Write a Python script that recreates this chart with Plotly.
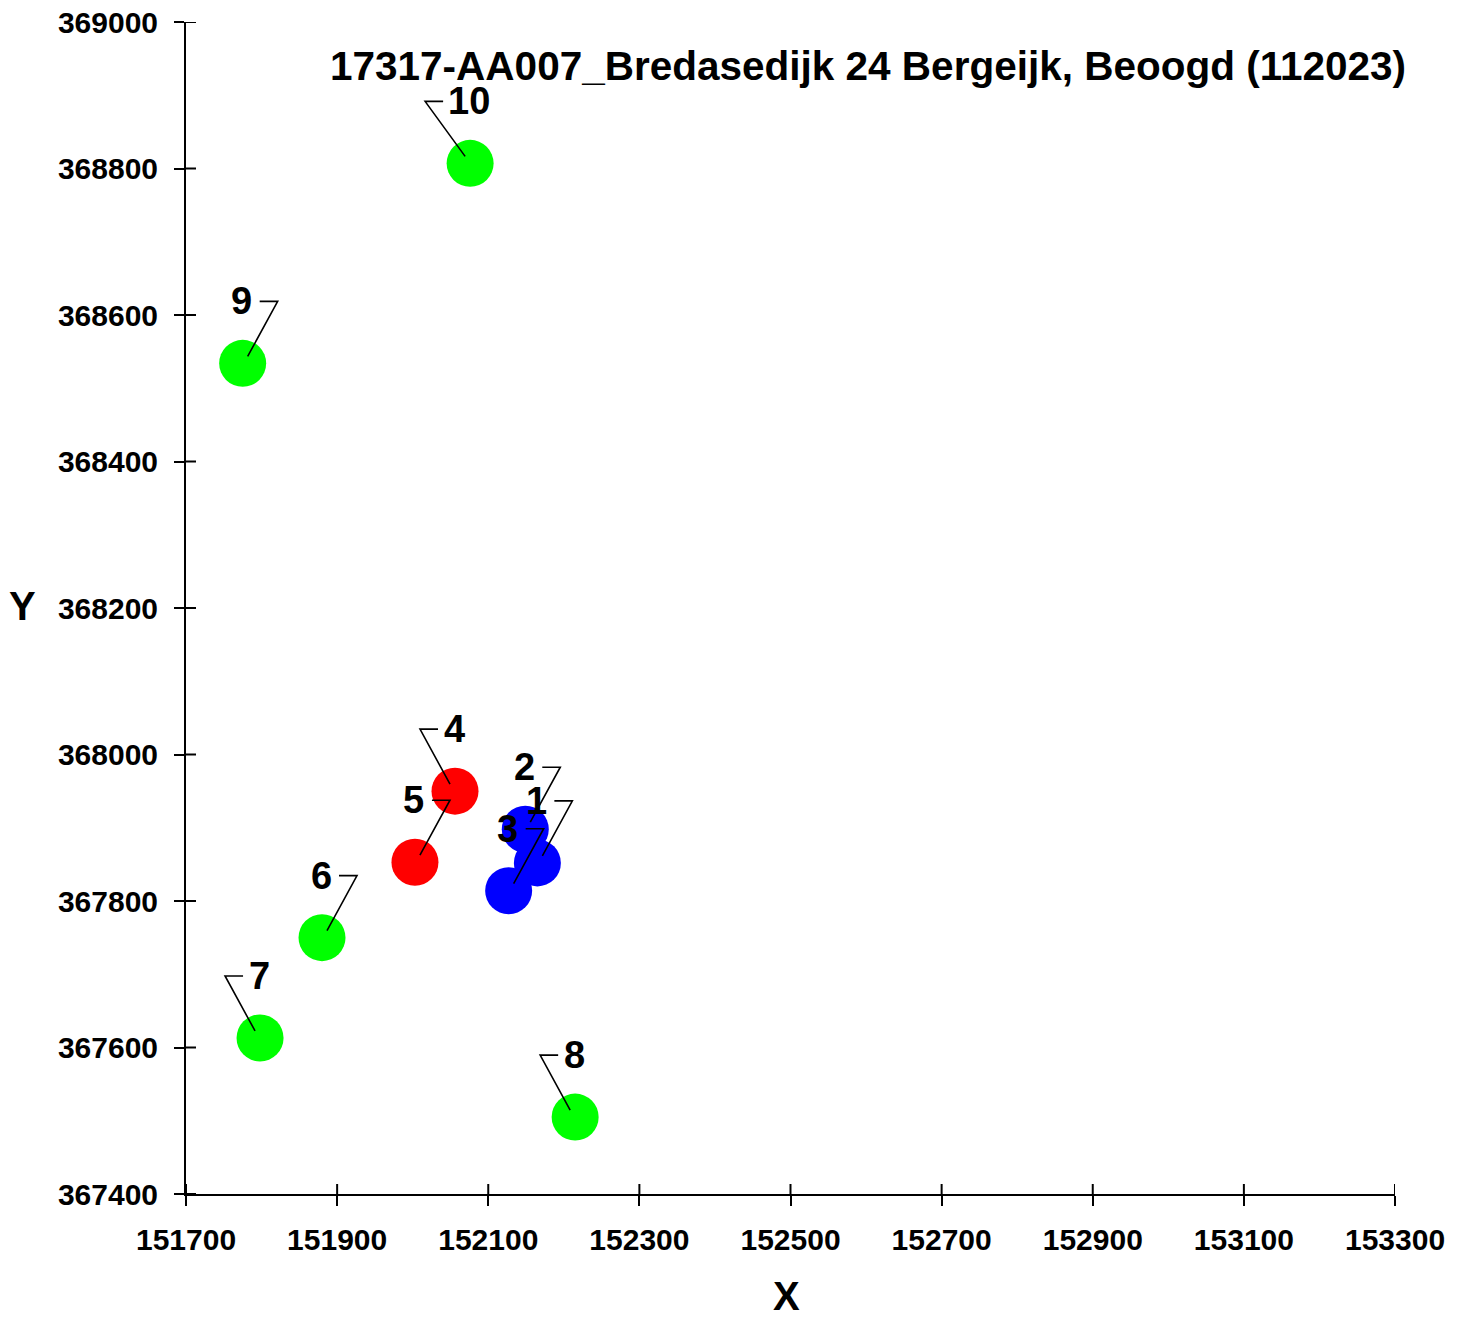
import plotly.graph_objects as go

# ---- data ----
point_ids = ["1", "2", "3", "4", "5", "6", "7", "8", "9", "10"]
x_vals = [152165, 152149, 152127, 152056, 152003, 151880, 151798, 152215, 151775, 152076]
y_vals = [367852, 367898, 367814, 367950, 367853, 367750, 367613, 367505, 368534, 368807]
point_group = ["blue", "blue", "blue", "red", "red", "green", "green", "green", "green", "green"]
label_side = ["R", "R", "R", "L", "R", "R", "L", "L", "R", "L"]

x_ticks = [151700, 151900, 152100, 152300, 152500, 152700, 152900, 153100, 153300]
y_ticks = [367400, 367600, 367800, 368000, 368200, 368400, 368600, 368800, 369000]

title_text = "17317-AA007_Bredasedijk 24 Bergeijk, Beoogd (112023)"

# ---- style ----
COLORS = {"blue": "#0000FF", "red": "#FF0000", "green": "#00FF00"}
FONT = "Liberation Sans, Arial, sans-serif"
W, H = 1466, 1319
ML, MR, MT, MB = 186, 71, 22, 125

fig = go.Figure()
for grp in ["blue", "red", "green"]:
    idx = [i for i, g in enumerate(point_group) if g == grp]
    fig.add_trace(go.Scatter(
        x=[x_vals[i] for i in idx], y=[y_vals[i] for i in idx],
        mode="markers",
        marker=dict(size=47, color=COLORS[grp], line=dict(width=0)),
        hoverinfo="skip", showlegend=False, cliponaxis=False,
    ))

shapes = []
annotations = []
# leader lines + labels (offsets in pixels, y up)
for pid, px, py, side in zip(point_ids, x_vals, y_vals, label_side):
    s = 1 if side == "R" else -1
    half = 17 if len(pid) == 1 else 27
    tick_in = s * half
    elbow = s * (half + 18)
    path = f"M {s*5},{7} L {elbow},{62} L {tick_in},{62}"
    shapes.append(dict(
        type="path", xref="x", yref="y", xsizemode="pixel", ysizemode="pixel",
        xanchor=px, yanchor=py, path=path,
        line=dict(color="black", width=1.6), layer="above",
    ))
    annotations.append(dict(
        x=px, y=py, xref="x", yref="y", text=pid, showarrow=False,
        xshift=-1, yshift=62, xanchor="center", yanchor="middle",
        font=dict(family=FONT, size=38, color="black", weight="bold"),
    ))

# inside halves of crossing ticks
for v in x_ticks:
    shapes.append(dict(type="line", xref="x", yref="paper", ysizemode="pixel",
                       yanchor=0, x0=v, x1=v, y0=0, y1=10,
                       line=dict(color="black", width=2)))
for v in y_ticks:
    shapes.append(dict(type="line", xref="paper", yref="y", xsizemode="pixel",
                       xanchor=0, x0=0, x1=10, y0=v, y1=v,
                       line=dict(color="black", width=2)))

# title and axis titles
annotations.append(dict(x=0.564, y=0.9625, xref="paper", yref="paper", text=title_text,
                        showarrow=False, xanchor="center", yanchor="middle",
                        font=dict(family=FONT, size=40.5, color="black", weight="bold")))
annotations.append(dict(x=0.497, y=-0.0870, xref="paper", yref="paper", text="X",
                        showarrow=False, xanchor="center", yanchor="middle",
                        font=dict(family=FONT, size=40, color="black", weight="bold")))
annotations.append(dict(x=-0.1356, y=0.5017, xref="paper", yref="paper", text="Y",
                        showarrow=False, xanchor="center", yanchor="middle",
                        font=dict(family=FONT, size=40, color="black", weight="bold")))

axis_common = dict(showline=True, linecolor="black", linewidth=2, showgrid=False,
                   zeroline=False, ticks="outside", ticklen=10, tickwidth=2,
                   tickcolor="black", automargin=False,
                   tickfont=dict(family=FONT, size=30, color="black", weight="bold"))

fig.update_layout(
    width=W, height=H,
    margin=dict(l=ML, r=MR, t=MT, b=MB, pad=0, autoexpand=False),
    paper_bgcolor="white", plot_bgcolor="white",
    shapes=shapes, annotations=annotations,
    xaxis=dict(range=[x_ticks[0], x_ticks[-1]], tickvals=x_ticks,
               ticktext=[str(v) for v in x_ticks], ticklabelstandoff=8, **axis_common),
    yaxis=dict(range=[y_ticks[0], y_ticks[-1]], tickvals=y_ticks,
               ticktext=[str(v) for v in y_ticks], ticklabelstandoff=10, **axis_common),
)

fig.write_html("out.html", config={"displayModeBar": False},
               post_script="document.body.style.margin='0';document.body.style.overflow='hidden';")
